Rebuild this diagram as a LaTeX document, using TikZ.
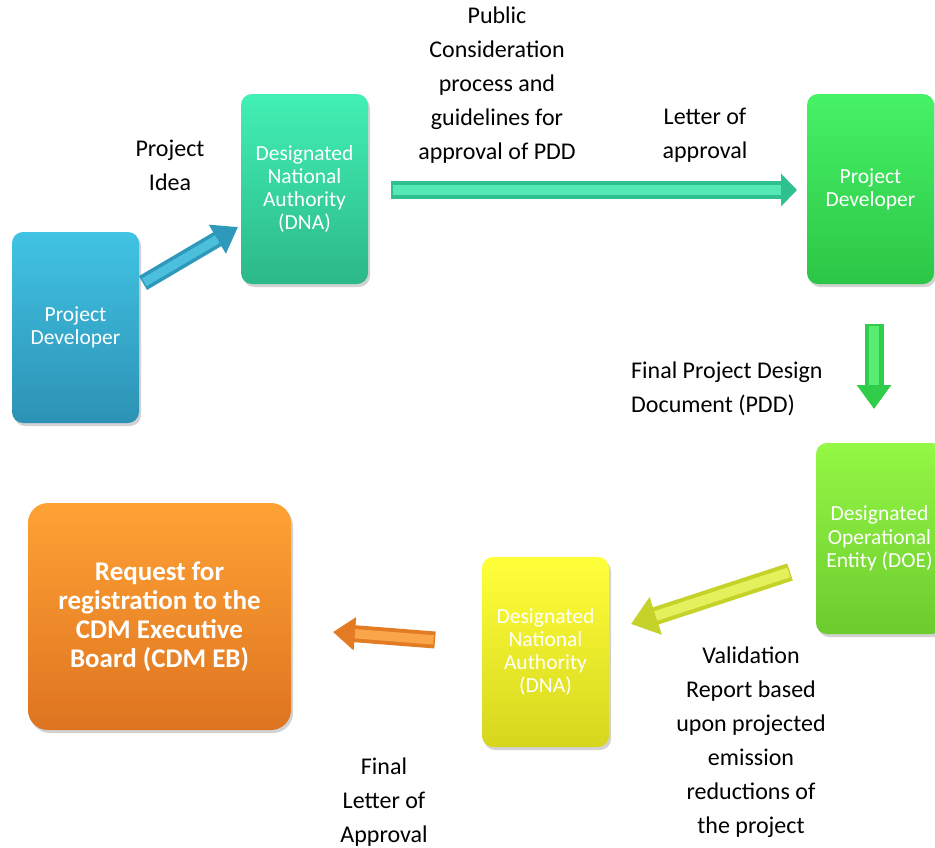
\documentclass[tikz,border=0pt]{standalone}
\usepackage{fontspec}
\setmainfont{Carlito}
\usetikzlibrary{arrows.meta,shadows,calc}
\definecolor{bluetop}{HTML}{41C3E3}
\definecolor{bluebot}{HTML}{2C92B5}
\definecolor{tealtop}{HTML}{42F0B4}
\definecolor{tealbot}{HTML}{2CB888}
\definecolor{greentop}{HTML}{46F266}
\definecolor{greenbot}{HTML}{2CC646}
\definecolor{limetop}{HTML}{94F845}
\definecolor{limebot}{HTML}{6CCB2E}
\definecolor{yeltop}{HTML}{FFFF3A}
\definecolor{yelbot}{HTML}{D6D61E}
\definecolor{ortop}{HTML}{FFA235}
\definecolor{orbot}{HTML}{DE7420}
\definecolor{yarrdark}{HTML}{C4D22A}
\definecolor{yarrlight}{HTML}{EEF86A}
\tikzset{
  x=1pt,y=-1pt,
  box/.style={rounded corners=11pt, minimum width=127pt, minimum height=190pt,
    text=white, align=center, font=\fontsize{21.5}{23.3}\selectfont, inner sep=2pt,
    drop shadow={opacity=0.35, shadow xshift=2pt, shadow yshift=-3pt}},
  lbl/.style={align=center, font=\fontsize{24}{34}\selectfont, text=black, inner sep=0pt},
}
\newcommand{\blockarrow}[7]{%
  % #1 from, #2 to, #3 shaft, #4 head width, #5 head length, #6 dark, #7 light
  \draw[line width=#3, draw=#6, -{Triangle[width=#4,length=#5]}, fill=#6] (#1) -- (#2);
  \draw[line width=0.55*#3, draw=#7, shorten >=#5, shorten <=1.5pt, opacity=0.8] (#1) -- (#2);
}
\begin{document}
\begin{tikzpicture}
\useasboundingbox[fill=white] (0,0) rectangle (935,847);
% boxes
\node[box, top color=bluetop, bottom color=bluebot, minimum height=191pt] (pd1) at (75.5,327.5) {Project\\Developer};
\node[box, top color=tealtop, bottom color=tealbot] (dna1) at (304.5,189) {Designated\\National\\Authority\\(DNA)};
\node[box, top color=greentop, bottom color=greenbot] (pd2) at (870.5,189) {Project\\Developer};
\node[box, top color=limetop, bottom color=limebot, minimum height=191pt] (doe) at (879.5,538.5) {Designated\\Operational\\Entity (DOE)};
\node[box, top color=yeltop, bottom color=yelbot] (dna2) at (545.5,652) {Designated\\National\\Authority\\(DNA)};
\node[box, top color=ortop, bottom color=orbot, minimum width=263pt, minimum height=227pt,
  rounded corners=20pt, font=\bfseries\fontsize{27}{29}\selectfont] (cdm) at (159.5,616.5)
  {Request for\\registration to the\\CDM Executive\\Board (CDM EB)};
% arrow end points
\coordinate (a1s) at (143,283); \coordinate (a1e) at (238,227);
\coordinate (a2s) at (391,190); \coordinate (a2e) at (797,190);
\coordinate (a3s) at (874,324); \coordinate (a3e) at (874,409);
\coordinate (a4s) at (790,572); \coordinate (a4e) at (631,624);
\coordinate (a5s) at (435,640); \coordinate (a5e) at (333,632);
% arrows
\blockarrow{a1s}{a1e}{16pt}{32pt}{24pt}{bluebot!85!bluetop}{bluetop!90!white}
\blockarrow{a2s}{a2e}{18pt}{32pt}{16pt}{tealbot!85!tealtop}{tealtop!85!white}
\blockarrow{a3s}{a3e}{19pt}{33pt}{24pt}{greenbot!85!greentop}{greentop!85!white}
\blockarrow{a4s}{a4e}{18pt}{38pt}{26pt}{yarrdark}{yarrlight}
\blockarrow{a5s}{a5e}{17pt}{32pt}{22pt}{orbot!85!ortop}{ortop!85!white}
% labels
\node[lbl] (l1) at (170,165) {Project\\Idea};
\node[lbl] (l2) at (497,85.5) {Public\\Consideration\\process and\\guidelines for\\approval of PDD};
\node[lbl] (l3) at (705,135.5) {Letter of\\approval};
\node[lbl, anchor=west, align=left] (l4) at (631,389) {Final Project Design\\Document (PDD)};
\node[lbl] (l5) at (751,742) {Validation\\Report based\\upon projected\\emission\\reductions of\\the project};
\node[lbl] (l6) at (384,802.5) {Final\\Letter of\\Approval};
\end{tikzpicture}
\end{document}
